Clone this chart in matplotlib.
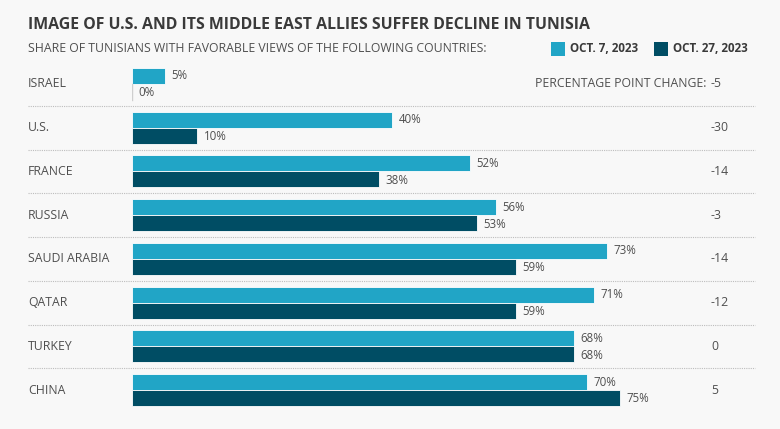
import matplotlib
matplotlib.use("Agg")
import matplotlib.pyplot as plt
from matplotlib.patches import Rectangle

countries = ["ISRAEL", "U.S.", "FRANCE", "RUSSIA", "SAUDI ARABIA", "QATAR", "TURKEY", "CHINA"]
oct7 = [5, 40, 52, 56, 73, 71, 68, 70]
oct27 = [0, 10, 38, 53, 59, 59, 68, 75]
changes = ["-5", "-30", "-14", "-3", "-14", "-12", "0", "5"]
series_names = ["OCT. 7, 2023", "OCT. 27, 2023"]

LIGHT = "#21a5c6"
DARK = "#004d64"
BG = "#f8f8f8"
TXT = "#4f4f4f"
FONT = ["Open Sans", "DejaVu Sans"]
plt.rcParams["font.family"] = FONT

W, H = 780, 429
fig = plt.figure(figsize=(W / 100, H / 100), dpi=100, facecolor=BG)

px_per = 6.5
left_px, right_px = 132, 755
top_px, bot_px = 62, 412
ax = fig.add_axes([left_px / W, 1 - bot_px / H, (right_px - left_px) / W, (bot_px - top_px) / H])
ax.set_facecolor(BG)
ax.set_xlim(0, (right_px - left_px) / px_per)
ax.set_ylim(len(countries) - 0.5, -0.5)
ax.axis("off")

bh = 16 / 43.75
for i, (c, a, b, ch) in enumerate(zip(countries, oct7, oct27, changes)):
    ax.barh(i - bh / 2, a, height=bh, color=LIGHT, edgecolor="white", linewidth=0.6)
    if b > 0:
        ax.barh(i + bh / 2, b, height=bh, color=DARK, edgecolor="white", linewidth=0.6)
    else:
        ax.plot([0, 0], [i, i + bh], color="#cfcfcf", lw=1)
    ax.text(a + 1.0, i - bh / 2, f"{a}%", va="center", ha="left", fontsize=8.3, color=TXT)
    ax.text(b + 1.0, i + bh / 2 + 0.02, f"{b}%", va="center", ha="left", fontsize=8.3, color=TXT)
    ax.text((28 - left_px) / px_per, i, c, va="center", ha="left", fontsize=8.8, color=TXT,
            fontweight="medium", clip_on=False)
    ax.text((711 - left_px) / px_per, i, ch, va="center", ha="left", fontsize=8.8, color=TXT, clip_on=False)
    if i < len(countries) - 1:
        ax.plot([(28 - left_px) / px_per, (755 - left_px) / px_per], [i + 0.5, i + 0.5],
                color="#bdbdbd", lw=0.8, ls=(0, (1, 1)), clip_on=False)

ax.text((706 - left_px) / px_per, 0, "PERCENTAGE POINT CHANGE:", va="center", ha="right",
        fontsize=8.8, color=TXT, clip_on=False)

fig.text(28 / W, 1 - 25 / H, "IMAGE OF U.S. AND ITS MIDDLE EAST ALLIES SUFFER DECLINE IN TUNISIA",
         fontsize=11.4, fontweight="bold", color="#3a3a3a", va="center", ha="left")
fig.text(28 / W, 1 - 48 / H, "SHARE OF TUNISIANS WITH FAVORABLE VIEWS OF THE FOLLOWING COUNTRIES:",
         fontsize=8.8, color=TXT, va="center", ha="left")

# legend
for x0, col, name in [(551, LIGHT, series_names[0]), (654, DARK, series_names[1])]:
    fig.patches.append(Rectangle((x0 / W, 1 - 56 / H), 14 / W, 14 / H, transform=fig.transFigure,
                                 facecolor=col, edgecolor="none"))
    fig.text((x0 + 19) / W, 1 - 49 / H, name, fontsize=8.4, fontweight="bold", color="#3a3a3a",
             va="center", ha="left")

fig.savefig("out.png", dpi=100, facecolor=BG)
